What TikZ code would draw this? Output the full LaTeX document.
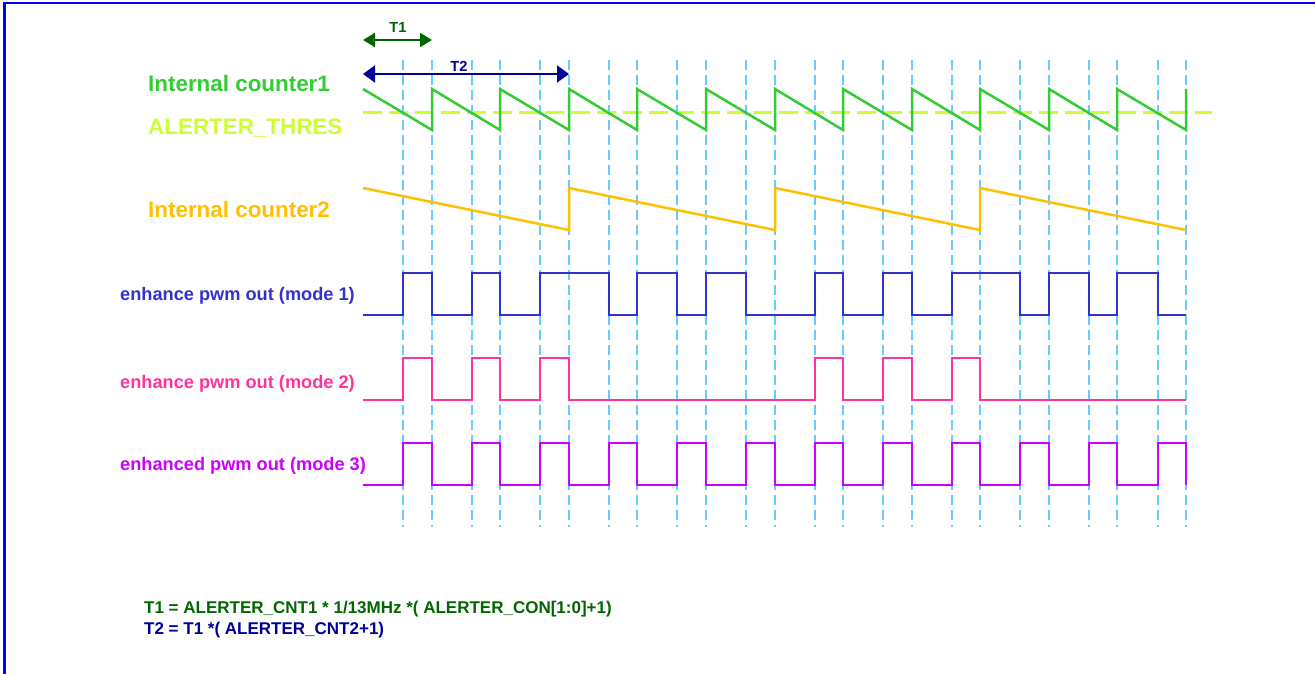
\documentclass[tikz,border=0pt]{standalone}
\usepackage{fontspec}
\setmainfont{Liberation Sans}
\usetikzlibrary{arrows.meta}
\definecolor{framec}{HTML}{0000FF}
\definecolor{gridc}{HTML}{66CCFF}
\definecolor{cntone}{HTML}{33CC33}
\definecolor{thresc}{HTML}{CCFF33}
\definecolor{cnttwo}{HTML}{FFC000}
\definecolor{modeone}{HTML}{3333CC}
\definecolor{modetwo}{HTML}{FF3399}
\definecolor{modethree}{HTML}{CC00FF}
\definecolor{tonec}{HTML}{006600}
\definecolor{ttwoc}{HTML}{000099}
\newcommand\fsbig{\fontsize{22.4}{26}\selectfont\bfseries}
\newcommand\fsmid{\fontsize{18.2}{22}\selectfont\bfseries}
\newcommand\fssmall{\fontsize{14.6}{18}\selectfont\bfseries}
\newcommand\fseq{\fontsize{17}{20}\selectfont\bfseries}
\newcommand\pwmwave[4]{%
  \draw[#1] (363,#2) \foreach \ua/\ub in {#4} { -- (\ua,#2) -- (\ua,#3) -- (\ub,#3) -- (\ub,#2) } -- (1186,#2);}
\begin{document}
\begin{tikzpicture}[x=1pt,y=-1pt,
  lbl/.style={inner sep=0pt,anchor=base west},
  gridline/.style={gridc,line width=2pt,dash pattern=on 10pt off 5pt},
  trace/.style={line width=2.5pt,line join=miter},
  period/.style={line width=2pt}]
\useasboundingbox (0,0) rectangle (1315,674);
% frame
\draw[framec,line width=2.5pt] (4.5,674) -- (4.5,3) -- (1315,3);
% dashed grid lines (threshold crossings and counter reloads)
\foreach \gx in {403,432,472,500,540,569,609,637,677,706,746,775,815,843,883,912,952,980,1020,1049,1089,1117,1158,1186} {
  \draw[gridline] (\gx,60) -- ++(0,467);
}
% threshold
\draw[thresc,line width=3pt,dash pattern=on 19pt off 7pt] (363,113) -- (1212,113);
% internal counter 1
\draw[cntone,trace] (363,89) \foreach \rx in {432,500,569,637,706,775,843,912,980,1049,1117,1186} { -- (\rx,130) -- (\rx,89) };
% internal counter 2
\draw[cnttwo,trace] (363,188) -- (569,230) -- (569,188) -- (775,230) -- (775,188) -- (980,230) -- (980,188) -- (1186,230);
% pwm outputs
\pwmwave{modeone,trace}{315}{273}{403/432,472/500,540/609,637/677,706/746,815/843,883/912,952/1020,1049/1089,1117/1158}
\pwmwave{modetwo,trace}{400}{358}{403/432,472/500,540/569,815/843,883/912,952/980}
\pwmwave{modethree,trace}{485}{443}{403/432,472/500,540/569,609/637,677/706,746/775,815/843,883/912,952/980,1020/1049,1089/1117,1158/1186}
% period arrows
\coordinate (t1a) at (363,40);
\coordinate (t1b) at (432,40);
\coordinate (t2a) at (363,74);
\coordinate (t2b) at (569,74);
\draw[tonec,period,{Triangle[length=12pt,width=14pt]}-{Triangle[length=12pt,width=14pt]}] (t1a) -- (t1b);
\draw[ttwoc,period,{Triangle[length=12pt,width=17pt]}-{Triangle[length=12pt,width=17pt]}] (t2a) -- (t2b);
\node[lbl,tonec,anchor=base] (lt1) at (398,33) {\fssmall T1};
\node[lbl,ttwoc,anchor=base] (lt2) at (459,72) {\fssmall T2};
% labels
\node[lbl,cntone] (lc1) at (148,92) {\fsbig Internal counter1};
\node[lbl,thresc] (lthr) at (148,135) {\fsbig ALERTER\_THRES};
\node[lbl,cnttwo] (lc2) at (148,218) {\fsbig Internal counter2};
\node[lbl,modeone] (lm1) at (120,300.5) {\fsmid enhance pwm out (mode 1)};
\node[lbl,modetwo] (lm2) at (120,388) {\fsmid enhance pwm out (mode 2)};
\node[lbl,modethree] (lm3) at (120,470) {\fsmid enhanced pwm out (mode 3)};
% equations
\node[lbl,tonec] (eq1) at (144,613) {\fseq T1 = ALERTER\_CNT1 * 1/13MHz *( ALERTER\_CON[1:0]+1)};
\node[lbl,ttwoc] (eq2) at (144,634) {\fseq T2 = T1 *( ALERTER\_CNT2+1)};
\end{tikzpicture}
\end{document}
